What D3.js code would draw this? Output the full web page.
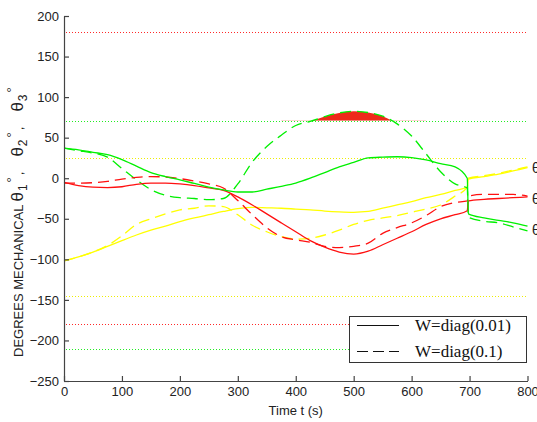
<!DOCTYPE html>
<html>
<head>
<meta charset="utf-8">
<script src="https://cdn.jsdelivr.net/npm/d3@7"></script>
<style>
    body { margin: 0; background: #fff; overflow: hidden; }
    #chart { position: absolute; left: 0; top: 0; }
</style>
</head>
<body>
<div id="chart"></div>
<script>
// sample times (s), with a step just before / after the switch at ~697 s
var timeSeconds = [0, 25, 50, 75, 100, 125, 150, 175, 200, 225, 250, 275, 300, 325, 350, 375, 400,
    425, 450, 475, 500, 525, 550, 575, 600, 625, 650, 675, 696, 698, 725, 750, 775, 800];

// W=diag(0.01) (solid)
var redSolid = [-5, -9, -11, -11.5, -10.5, -7.5, -6, -6, -7, -9, -12, -15, -23, -33, -44, -55, -66,
    -77, -85, -91, -93.5, -90, -82, -74, -66, -57, -50, -45, -40, -28, -26, -25, -24, -23];
var greenSolid = [37, 35, 32, 29, 23, 15, 7, 2, -2, -6.5, -11, -14.5, -17, -17, -13.5, -10, -6,
    0, 7, 14, 19.5, 25, 26, 26.5, 25.5, 22.5, 18, 14, 0, -44, -49, -52, -55, -59];
var yellowSolid = [-102, -97, -91, -84, -77, -70, -64, -59, -53.5, -49, -45, -41, -37.5, -36, -36.5, -37, -38,
    -39, -40.5, -41.5, -42, -41, -37, -33, -29, -24, -20, -15, -11, -1, 2, 5, 9, 13];

// W=diag(0.1) (dashed)
var redDashed = [-6, -6, -5.5, -4, -1, 1, 2, 1.5, -0.5, -3.5, -7, -12, -27.5, -45, -61, -72, -76,
    -79, -84, -85.5, -84, -80, -68, -61, -55, -46, -35, -30, -28, -22, -20, -20, -20, -22];
var greenDashed = [37, 34, 31, 26, 12, -2, -14, -21, -24, -25, -26.5, -25, -7, 20, 39, 53, 65,
    70, 76, 80.5, 82.5, 81, 76.5, 67, 52, 30, 8, -7, -12, -48, -53, -55, -60, -65];
var yellowDashed = [-102, -97, -91, -83, -71, -57, -50, -44, -39, -37, -34, -35, -45, -58, -66, -72, -75,
    -74, -70, -64, -57, -52, -49, -46, -42, -38, -33, -22, -11, 0, 3, 6, 10, 14];

// horizontal joint limits (dotted)
var limitValues = [180, 71, 25, -145, -180, -210];
var limitColours = ["#ff2a2a", "#22ee22", "#eeee00", "#eeee00", "#ff2a2a", "#22ee22"];

var xTicks = [0, 100, 200, 300, 400, 500, 600, 700, 800];
var yTicks = [200, 150, 100, 50, 0, -50, -100, -150, -200, -250];
var legendLabels = ["W=diag(0.01)", "W=diag(0.1)"];
var endLabels = ["1", "2", "3"];

function ThetaChart(containerId) {
    var self = this;

    self.width = 537;
    self.height = 422;
    self.left = 64;
    self.right = 527.5;
    self.top = 16;
    self.bottom = 381;

    self.x = d3.scaleLinear().domain([0, 800]).range([self.left, self.right]);
    self.y = d3.scaleLinear().domain([-250, 200]).range([self.bottom, self.top]);

    self.svg = d3.select(containerId).append("svg")
        .attr("width", self.width)
        .attr("height", self.height);

    self.line = d3.line()
        .x(function(d) { return self.x(d[0]); })
        .y(function(d) { return self.y(d[1]); })
        .curve(d3.curveMonotoneX);

    self.drawLimits = function() {
        self.svg.append("g").selectAll("line")
            .data(limitValues)
            .join("line")
            .attr("x1", self.x(0) + 2)
            .attr("x2", self.x(800))
            .attr("y1", function(d) { return Math.round(self.y(d)) + 0.5; })
            .attr("y2", function(d) { return Math.round(self.y(d)) + 0.5; })
            .attr("stroke", function(d, i) { return limitColours[i]; })
            .attr("stroke-width", 1)
            .attr("stroke-dasharray", "1,2");
    }

    self.drawViolation = function() {
        // red patch where the dashed green curve goes over its upper limit
        self.svg.append("clipPath").attr("id", "overLimit")
            .append("rect")
            .attr("x", self.left)
            .attr("y", self.top)
            .attr("width", self.right - self.left)
            .attr("height", self.y(71) - self.top);

        var area = d3.area()
            .x(function(d) { return self.x(d[0]); })
            .y0(self.y(71))
            .y1(function(d) { return self.y(d[1]); })
            .curve(d3.curveMonotoneX);

        var pts = d3.zip(timeSeconds, greenDashed).filter(function(d) { return d[0] >= 375 && d[0] <= 625; });
        self.svg.append("path")
            .attr("clip-path", "url(#overLimit)")
            .attr("d", area(pts))
            .attr("fill", "#ee2a1a");
    }

    self.drawSeries = function() {
        var series = [
            { values: yellowDashed, colour: "#ffff00", dash: "11,6" },
            { values: yellowSolid, colour: "#ffff00", dash: null },
            { values: greenDashed, colour: "#00f000", dash: "11,6" },
            { values: redDashed, colour: "#ff1010", dash: "11,6" },
            { values: redSolid, colour: "#ff1010", dash: null },
            { values: greenSolid, colour: "#00f000", dash: null }
        ];

        self.svg.append("g").selectAll("path")
            .data(series)
            .join("path")
            .attr("d", function(s) { return self.line(d3.zip(timeSeconds, s.values)); })
            .attr("fill", "none")
            .attr("stroke", function(s) { return s.colour; })
            .attr("stroke-width", 1.3)
            .attr("stroke-dasharray", function(s) { return s.dash; });
    }

    self.drawAxes = function() {
        var xAxis = d3.axisBottom(self.x)
            .tickValues(xTicks)
            .tickSizeInner(-5)
            .tickSizeOuter(0)
            .tickPadding(6);
        var yAxis = d3.axisLeft(self.y)
            .tickValues(yTicks)
            .tickSizeInner(-5)
            .tickSizeOuter(0)
            .tickPadding(5);

        var gx = self.svg.append("g")
            .attr("transform", "translate(0," + self.bottom + ")")
            .call(xAxis);
        var gy = self.svg.append("g")
            .attr("transform", "translate(" + self.left + ",0)")
            .call(yAxis);

        [gx, gy].forEach(function(g) {
            g.selectAll("path, line").attr("stroke", "#444").attr("stroke-width", 1.2);
            g.selectAll("text")
                .attr("fill", "#222")
                .attr("font-family", "Liberation Sans, Arial, sans-serif")
                .attr("font-size", "13px");
        });

        self.svg.append("text")
            .attr("x", (self.left + self.right) / 2)
            .attr("y", 415)
            .attr("text-anchor", "middle")
            .attr("font-family", "Liberation Sans, Arial, sans-serif")
            .attr("font-size", "13px")
            .attr("fill", "#222")
            .text("Time t (s)");

        var ylab = self.svg.append("text")
            .attr("transform", "translate(23,357) rotate(-90)")
            .attr("font-family", "Liberation Sans, Arial, sans-serif")
            .attr("font-size", "13px")
            .attr("fill", "#222");
        ylab.append("tspan").text("DEGREES MECHANICAL");
        endLabels.forEach(function(n, i) {
            ylab.append("tspan").attr("font-size", "17px").attr("dx", i ? 15 : 3).text("θ");
            ylab.append("tspan").attr("font-size", "12px").attr("dx", 1).attr("dy", 4).text(n);
            ylab.append("tspan").attr("font-size", "13px").attr("dx", 2).attr("dy", -11).text("°");
            if (i < endLabels.length - 1) {
                ylab.append("tspan").attr("dx", 2).attr("dy", 7).text(",");
            }
        });
    }

    self.drawEndLabels = function() {
        self.svg.append("g").selectAll("text")
            .data(endLabels)
            .join("text")
            .attr("x", 532)
            .attr("y", function(d, i) { return [173, 204, 235][i]; })
            .attr("font-family", "Liberation Sans, Arial, sans-serif")
            .attr("font-size", "14px")
            .attr("fill", "#222")
            .text(function(d) { return "θ" + d; });
    }

    self.drawLegend = function() {
        var g = self.svg.append("g");
        g.append("rect")
            .attr("x", 349.5)
            .attr("y", 316.5)
            .attr("width", 177)
            .attr("height", 46)
            .attr("fill", "#fff")
            .attr("stroke", "#333")
            .attr("stroke-width", 1);

        var rows = g.selectAll("g.row")
            .data(legendLabels)
            .join("g")
            .attr("class", "row")
            .attr("transform", function(d, i) { return "translate(0," + (i * 26) + ")"; });

        rows.append("line")
            .attr("x1", 357)
            .attr("x2", 399)
            .attr("y1", 325.5)
            .attr("y2", 325.5)
            .attr("stroke", "#111")
            .attr("stroke-width", 1.1)
            .attr("stroke-dasharray", function(d, i) { return i ? "11,5" : null; });

        rows.append("text")
            .attr("x", 415)
            .attr("y", 331)
            .attr("font-family", "Liberation Serif, Times New Roman, serif")
            .attr("font-size", "17px")
            .attr("fill", "#111")
            .text(function(d) { return d; });
    }

    self.initialise = function() {
        self.drawLimits();
        self.drawViolation();
        self.drawSeries();
        self.drawAxes();
        self.drawEndLabels();
        self.drawLegend();
    }

    self.initialise();
}

var chart = new ThetaChart("#chart");
</script>
</body>
</html>
